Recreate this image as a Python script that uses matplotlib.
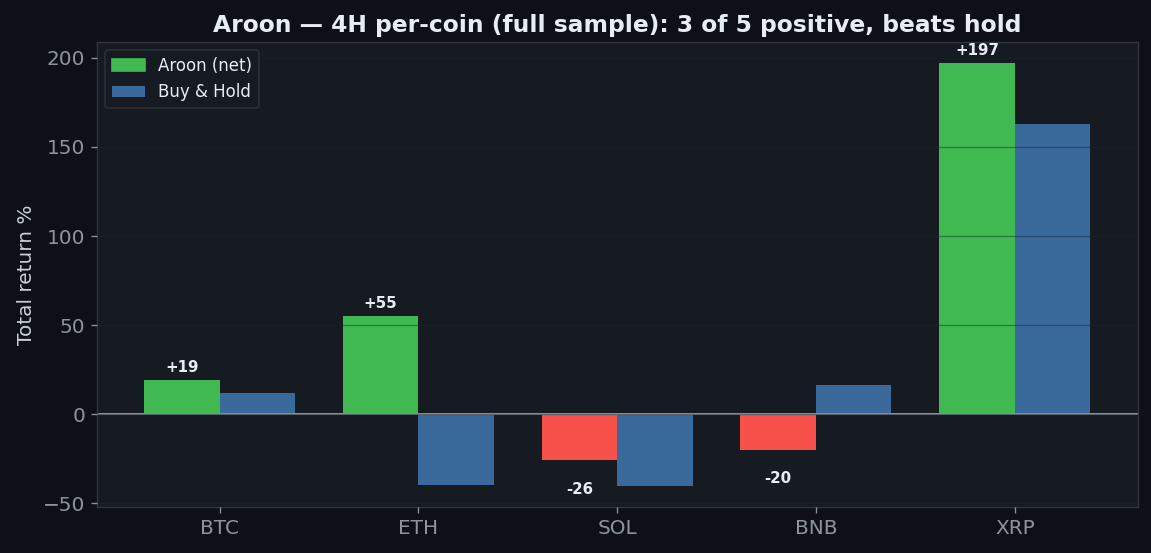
import numpy as np
import matplotlib.pyplot as plt

coins = ["BTC", "ETH", "SOL", "BNB", "XRP"]
aroon = [19, 55, -26, -20, 197]
hold = [12, -40, -40.4, 16.5, 163]

BG = "#0d1117"
AX = "#161b22"
GREEN = "#3fb950"
RED = "#f85149"
BLUE = "#3a699c"

fig, ax = plt.subplots(figsize=(9.595, 4.61), dpi=120)
fig.patch.set_facecolor(BG)
ax.set_facecolor(AX)

x = np.arange(len(coins))
w = 0.38
cols = [GREEN if v >= 0 else RED for v in aroon]
ax.bar(x - w/2, aroon, w, color=cols, label="Aroon (net)")
ax.bar(x + w/2, hold, w, color=BLUE, label="Buy & Hold")

for xi, v in zip(x, aroon):
    if v >= 0:
        ax.text(xi - w/2, v + 3, f"+{v}", ha="center", va="bottom",
                color="#e6edf3", fontsize=9, fontweight="bold")
    else:
        ax.text(xi - w/2, v - 12, f"{v}", ha="center", va="top",
                color="#e6edf3", fontsize=9, fontweight="bold")

ax.axhline(0, color="#8b949e", lw=1.2)
ax.set_axisbelow(False)
ax.grid(axis="y", color="#21262d", alpha=0.45, lw=0.8)

ax.set_xticks(x)
ax.set_xticklabels(coins)
ax.tick_params(colors="#8b949e", labelsize=12)
for s in ax.spines.values():
    s.set_color("#30363d")
ax.set_ylabel("Total return %", color="#c9d1d9", fontsize=12)
ax.set_title("Aroon — 4H per-coin (full sample): 3 of 5 positive, beats hold",
             color="#e6edf3", fontsize=14, fontweight="bold")

leg = ax.legend(loc="upper left", fontsize=10, facecolor=AX, edgecolor="#30363d",
                labelcolor="#e6edf3")
leg.legend_handles[0].set_color(GREEN)

fig.subplots_adjust(left=0.084, right=0.988, top=0.924, bottom=0.083)
fig.savefig("out.png", dpi=120, facecolor=BG)
